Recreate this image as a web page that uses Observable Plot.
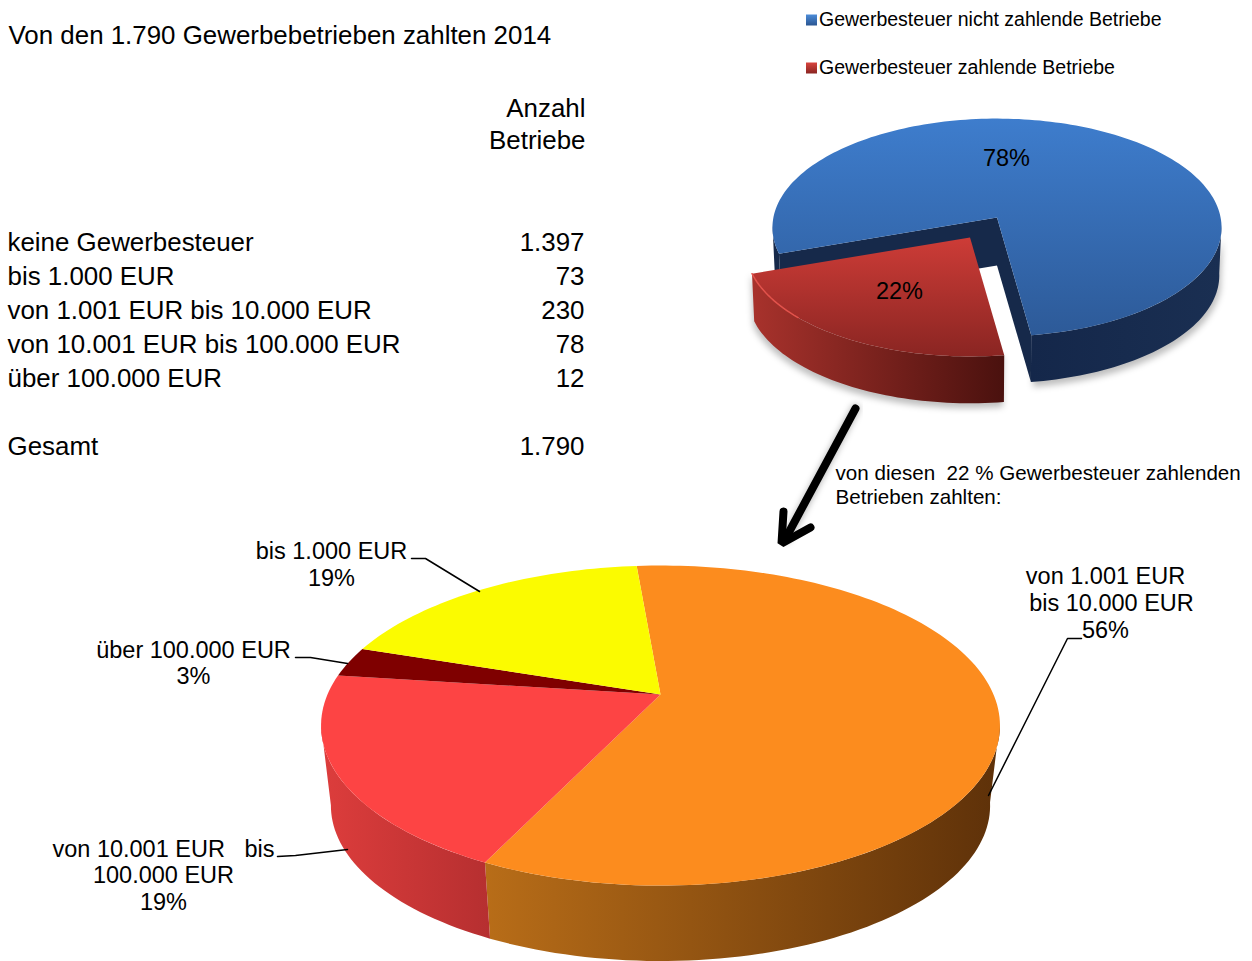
<!DOCTYPE html>
<html lang="de">
<head>
<meta charset="utf-8">
<script src="https://cdn.jsdelivr.net/npm/d3@7"></script>
<script src="https://cdn.jsdelivr.net/npm/@observablehq/plot@0.6"></script>
<style>
html,body{margin:0;padding:0;background:#fff;overflow:hidden}
svg{display:block}
</style>
</head>
<body>
<div id="chart"></div>
<script>
// ---------- data ----------
const title = "Von den 1.790 Gewerbebetrieben zahlten 2014";
const columnHeader = ["Anzahl", "Betriebe"];
const classes = ["keine Gewerbesteuer", "bis 1.000 EUR", "von 1.001 EUR bis 10.000 EUR", "von 10.001 EUR bis 100.000 EUR", "über 100.000 EUR"];
const counts = [1397, 73, 230, 78, 12];
const totalLabel = "Gesamt";
const legendLabels = ["Gewerbesteuer nicht zahlende Betriebe", "Gewerbesteuer zahlende Betriebe"];
const upperPercentLabels = ["78%", "22%"];
const noteLines = ["von diesen  22 % Gewerbesteuer zahlenden", "Betrieben zahlten:"];
const lowerLabelLines = [
  ["von 1.001 EUR", "bis 10.000 EUR", "56%"],
  ["von 10.001 EUR   bis", "100.000 EUR", "19%"],
  ["über 100.000 EUR", "3%"],
  ["bis 1.000 EUR", "19%"]
];

// ---------- layout ----------
const W = 1252, H = 961, FONT = "Liberation Sans, Arial, sans-serif";
const deFmt = n => String(n).replace(/\B(?=(\d{3})+$)/g, ".");
const total = d3.sum(counts);
const payers = total - counts[0];

// perspective disc: plan angle (deg, clockwise from far point) -> screen
const disc = (g, deg, lower = false) => {
  const a = deg * Math.PI / 180, u = Math.sin(a), v = -Math.cos(a), d = 1 + g.p * v;
  const x = g.B * u / d, y = g.A * v / d;
  return lower
    ? {x: g.cx + g.low * x, y: g.cy + g.low * y + g.depth}
    : {x: g.cx + x, y: g.cy + y};
};
const arc = (g, a0, a1, lower = false) => {
  const n = Math.max(2, Math.ceil(Math.abs(a1 - a0) / 1.5));
  return d3.range(n + 1).map(i => disc(g, a0 + (a1 - a0) * i / n, lower));
};
const apex = (g, lower = false) => disc({...g, A: 0, B: 0}, 0, lower);
const wedge = (g, a0, a1) => [apex(g), ...arc(g, a0, a1)];
const side = (g, a0, a1) => [...arc(g, a0, a1), ...arc(g, a1, a0, true)];

const lowerG = {cx: 660, cy: 694, A: 154, B: 333, p: -0.194, depth: 81, low: 0.971};
const upperG = {cx: 996.5, cy: 217, A: 108, B: 223.6, p: -0.092, depth: 48, low: 0.99};
const redG = {...upperG, cx: 969.5, cy: 237, depth: 48};

// lower pie slices: clockwise order as drawn, start angle of first
const lowerOrder = [2, 3, 4, 1].map(i => counts[i]);
const lowerStart = -4.9;
const lowerAngles = [lowerStart];
lowerOrder.forEach((c, i) => lowerAngles.push(lowerAngles[i] + 360 * c / payers));
const lowerFills = ["#fc8c1e", "#fd4444", "#7f0000", "#fbfb00"];

// upper pie
const redStart = 172, redEnd = redStart + 360 * payers / total;

const gradients = [
  ["gBlue", 0, 0, 0, 1, "#3e7dcd", "#2d5a98"],
  ["gRed", 0, 0, 0, 1, "#cd3c37", "#8a2522"],
  ["gRedSide", 0, 0, 1, 0, "#a8322c", "#4a110e"],
  ["gBlueSide", 0, 0, 1, 0, "#14274a", "#1a2f52"],
  ["gOrangeSide", 0, 0, 1, 0, "#b86d18", "#5e3109"],
  ["gLowRedSide", 0, 0, 1, 0, "#dd3d3c", "#b62f30"],
  ["gKeyBlue", 0, 0, 0, 1, "#4c8cd8", "#2a5591"],
  ["gKeyRed", 0, 0, 0, 1, "#d8443e", "#8a2522"]
];
const defs = () => {
  const d = d3.create("svg:defs");
  for (const [id, x1, y1, x2, y2, c0, c1] of gradients) {
    const g = d.append("linearGradient").attr("id", id).attr("x1", x1).attr("y1", y1).attr("x2", x2).attr("y2", y2);
    g.append("stop").attr("offset", 0).attr("stop-color", c0);
    g.append("stop").attr("offset", 1).attr("stop-color", c1);
  }
  d.append("filter").attr("id", "soft").attr("x", "-10%").attr("y", "-10%").attr("width", "120%").attr("height", "130%")
    .append("feGaussianBlur").attr("stdDeviation", 3);
  return d.node();
};
const soft = (index, scales, values, dims, ctx, next) => {
  const g = next(index, scales, values, dims, ctx);
  g.setAttribute("filter", "url(#soft)");
  return g;
};

const poly = (pts, fill, extra = {}) => Plot.line(pts, {x: "x", y: "y", fill, stroke: "none", curve: "linear", ...extra});
const path = (pts, stroke, strokeWidth, extra = {}) => Plot.line(pts, {x: "x", y: "y", stroke, strokeWidth, curve: "linear", ...extra});
const pt = (x, y) => ({x, y});
const textRows = (rows, anchor, fontSize) => Plot.text(rows, {
  x: "x", y: "y", text: "t", textAnchor: anchor, lineAnchor: "middle",
  fontSize, fontFamily: FONT, fill: "#000"
});

// table rows
const tableY0 = 242, rowStep = 34;
const tableLabels = classes.map((t, i) => ({t, x: 7, y: tableY0 + rowStep * i}));
tableLabels.push({t: totalLabel, x: 7, y: tableY0 + rowStep * 6});
const tableValues = counts.map((c, i) => ({t: deFmt(c), x: 584, y: tableY0 + rowStep * i}));
tableValues.push({t: deFmt(total), x: 584, y: tableY0 + rowStep * 6});

const lowerLabelPos = [
  [[1105, 576], [1111, 603], [1105, 630]],
  [[163, 849], [163, 875], [163, 902]],
  [[193, 650], [193, 676]],
  [[331, 551], [331, 578]]
];
const lowerRows = lowerLabelLines.flatMap((lines, i) => lines.map((t, j) => ({t, x: lowerLabelPos[i][j][0], y: lowerLabelPos[i][j][1]})));

const leaders = [
  [pt(1081, 638), pt(1067, 638), pt(988, 795)],
  [pt(277, 856), pt(295, 855), pt(347, 849)],
  [pt(295, 657), pt(310, 657), pt(347, 663)],
  [pt(411, 558), pt(425, 558), pt(479, 591)]
];

const marks = [
  defs,
  // --- upper pie shadow ---
  poly(side({...upperG, depth: 52}, 100, 172).map(d => ({x: d.x + 2, y: d.y + 1})), "#00000040", {render: soft}),
  poly(side({...redG, depth: 52}, redStart, redEnd).map(d => ({x: d.x - 1, y: d.y + 1})), "#00000040", {render: soft}),
  // --- upper pie: blue piece ---
  poly(side(upperG, redEnd, 266), "#16294a"),
  poly(side(upperG, 94, redStart), "url(#gBlueSide)"),
  poly([apex(upperG), disc(upperG, redEnd), disc(upperG, redEnd, true), apex(upperG, true)], "#16294a"),
  poly([apex(upperG), disc(upperG, redStart), disc(upperG, redStart, true), apex(upperG, true)], "#16294a"),
  poly(wedge(upperG, redEnd, redStart + 360), "url(#gBlue)"),
  // --- upper pie: red piece ---
  poly(side(redG, redStart, redEnd), "url(#gRedSide)"),
  poly(wedge(redG, redStart, redEnd), "url(#gRed)"),
  path(arc(redG, redEnd - 25, redEnd), "#e2524b", 1.5),
  // --- lower pie ---
  poly(side(lowerG, 100, lowerAngles[1]), "url(#gOrangeSide)"),
  poly(side(lowerG, lowerAngles[1], 259), "url(#gLowRedSide)"),
  ...lowerOrder.map((c, i) => poly(wedge(lowerG, lowerAngles[i], lowerAngles[i + 1]), lowerFills[i])),
  // --- leaders ---
  ...leaders.map(l => path(l, "#000", 1.5)),
  // --- arrow ---
  path([pt(855, 408), pt(786, 538)], "#00000045", 9, {render: soft}),
  path([pt(855, 408), pt(784, 540)], "#000", 8),
  path([pt(783, 511), pt(781, 543), pt(810, 527)], "#000", 8, {strokeLinejoin: "miter", strokeLinecap: "round"}),
  // --- legend swatches ---
  Plot.rect([{a: 806, b: 817, c: 14.5, d: 25.5}], {x1: "a", x2: "b", y1: "c", y2: "d", fill: "url(#gKeyBlue)"}),
  Plot.rect([{a: 806, b: 817, c: 62.5, d: 73.5}], {x1: "a", x2: "b", y1: "c", y2: "d", fill: "url(#gKeyRed)"}),
  // --- texts ---
  textRows([{t: title, x: 8, y: 35}], "start", 25.9),
  textRows(columnHeader.map((t, i) => ({t, x: 585, y: 108 + 32 * i})), "end", 25.9),
  textRows(tableLabels, "start", 25.9),
  textRows(tableValues, "end", 25.9),
  textRows(legendLabels.map((t, i) => ({t, x: 818.5, y: 19 + 48 * i})), "start", 19.5),
  textRows([{t: upperPercentLabels[0], x: 1006, y: 158}, {t: upperPercentLabels[1], x: 899, y: 291}], "middle", 23.5),
  textRows(noteLines.map((t, i) => ({t, x: 835, y: 473 + 24 * i})), "start", 20.6),
  textRows(lowerRows, "middle", 23.5)
];

const chart = Plot.plot({
  width: W, height: H,
  margin: 0,
  x: {domain: [0, W], range: [0, W], axis: null},
  y: {domain: [0, H], range: [0, H], axis: null},
  style: {background: "#fff", fontFamily: FONT},
  marks
});
document.getElementById("chart").append(chart);
</script>
</body>
</html>
